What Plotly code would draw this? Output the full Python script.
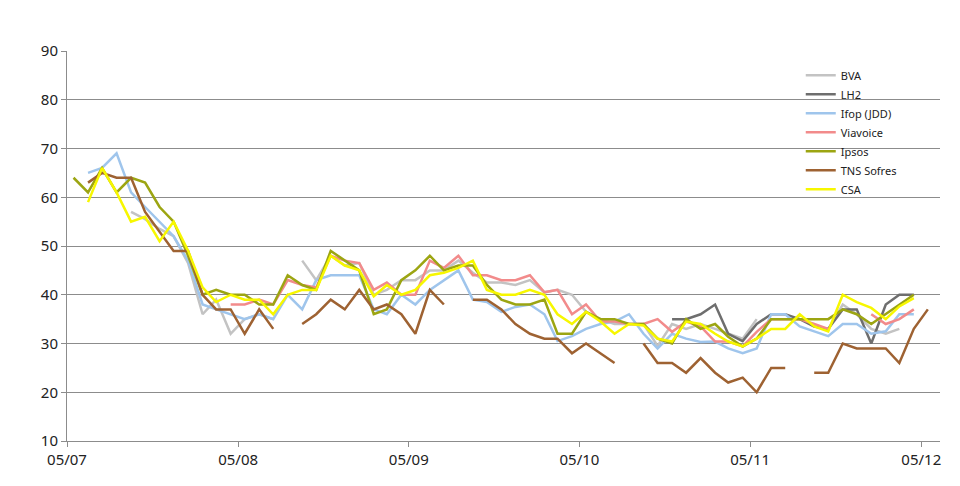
import pandas as pd
import plotly.graph_objects as go

# monthly polls, May 2007 -> May 2012 (61 months)
months = pd.date_range("2007-05-01", periods=61, freq="MS") + pd.Timedelta(days=14)
tick_dates = pd.date_range("2007-05-01", "2012-05-01", freq="12MS")

bva = [None, None, None, None, 57, 55.5, 53.5, 52, 46.5, 36,
       39, 32, 35, 36, 35, None, 47, 43, 48, 46,
       46.5, 40, 41, 43, 43, 45, 45, 47, 44.5, 42.5,
       42.5, 42, 43, 40.5, 41, 40, 36.5, 35, 34, 34,
       34, 29.5, 34, 33, 34, 33, 32, 31, 35, None,
       None, None, None, 33, 38, 36, 33, 32, 33, None,
       None]
lh2 = [None] * 42 + [35, 35, 36, 38, 32, 30.5, 34, 36, 36, 35,
                     33.5, 33, 37, 37, 30, 38, 40, 40] + [None]
ifop = [None, 65, 66, 69, 61, 58, 55, 52, 47, 38,
        37, 36, 35, 36, 35, 40, 37, 43, 44, 44,
        44, 37, 36, 40, 38, 41, 43, 45, 39, 38.5,
        36.5, 37.5, 38, 36, 30.5, 31.5, 33, 34, 34.5, 36,
        32, 29, 32, 31, 30.3, 30.4, 29, 28, 29, 36,
        36, 33.5, 32.5, 31.5, 34, 34, 32, 32.5, 36, 36,
        None]
viavoice = [None] * 11 + [38, 38, 39, 38, 43, 42, 41.5, 48, 47,
                          46.5, 41, 42.5, 40, 40, 47, 45.5, 48, 44, 44,
                          43, 43, 44, 40.5, 41, 36, 38, 34.5, 34.5, 34,
                          34, 35, 32.4, 34.5, 33.5, 30.4, 30.4, 29.4, 32.4, 35,
                          35, 35, 34, 33, None, None, 36, 34, 35, 37,
                          None]
ipsos = [64, 61, 66, 61, 64, 63, 58, 55, 48, 40,
         41, 40, 40, 38, 38, 44, 42, 41, 49, 47,
         45, 36, 37, 43, 45, 48, 45, 46, 46, 42,
         39, 38, 38, 39, 32, 32, 36.5, 35, 35, 34,
         34, 31, 30, 35, 33, 34, 31.4, 29.4, 31, 35,
         35, 35, 35, 35, 37, 36, 34, 36, 38, 40,
         None]
tns = [None, 63, 65, 64, 64, 57, 53, 49, 49, 40,
       37, 37, 32, 37, 33, None, 34, 36, 39, 37,
       41, 37, 38, 36, 32, 41, 38, None, 39, 39,
       37, 34, 32, 31, 31, 28, 30, 28, 26, None,
       30, 26, 26, 24, 27, 24, 22, 23, 20, 25,
       25, None, 24, 24, 30, 29, 29, 29, 26, 33,
       37]
csa = [None, 59, 66, 61, 55, 56, 51, 55, 49, 41.5,
       38.5, 40, 39, 39, 36, 40, 41, 41, 48, 46,
       45, 39.7, 42, 40, 41, 44, 44.5, 45.5, 47, 41,
       40, 40, 41, 40, 36, 34, 36.5, 34.5, 32, 34,
       33.7, 31, 30.4, 34.5, 34, 32, 30.4, 29.4, 31, 33,
       33, 36, 33.5, 32.5, 40, 38.5, 37.3, 35, 37.6, 39.3,
       None]

series = [
    ("BVA", bva, "#c3c3c3"),
    ("LH2", lh2, "#6e6e6e"),
    ("Ifop (JDD)", ifop, "#9fc5ec"),
    ("Viavoice", viavoice, "#f28b8b"),
    ("Ipsos", ipsos, "#9ca512"),
    ("TNS Sofres", tns, "#9e6232"),
    ("CSA", csa, "#f7f700"),
]

fig = go.Figure()
for name, vals, color in series:
    fig.add_trace(go.Scatter(x=months, y=vals, name=name, mode="lines",
                             line=dict(color=color, width=2.5)))

# page body adds 8px, margins are shifted to compensate
fig.update_layout(
    width=960, height=486,
    margin=dict(l=59, r=28, t=43, b=53),
    paper_bgcolor="white", plot_bgcolor="white",
    font=dict(family="Noto Sans", color="#222"),
    legend=dict(x=0.8405, y=0.975, xanchor="left", yanchor="top",
                bgcolor="rgba(0,0,0,0)", font=dict(size=11)),
)
fig.update_xaxes(type="date", range=["2007-05-01", "2012-06-10"],
                 tickvals=tick_dates, tickformat="%m/%y",
                 showgrid=False, showline=True, linecolor="#8c8c8c",
                 ticks="outside", ticklen=5, tickcolor="#8c8c8c",
                 tickfont=dict(size=15))
fig.update_yaxes(range=[10, 90], dtick=10, showgrid=True, gridcolor="#8c8c8c",
                 zeroline=False, showline=True, linecolor="#8c8c8c",
                 ticks="outside", ticklen=5, tickcolor="#8c8c8c",
                 tickfont=dict(size=15))

fig.write_html("out.html")
